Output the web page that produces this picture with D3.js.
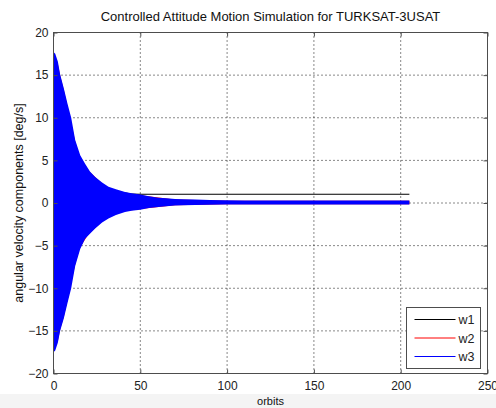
<!DOCTYPE html>
<html>
<head>
<meta charset="utf-8">
<script src="https://cdn.jsdelivr.net/npm/d3@7"></script>
<style>
  body { margin: 0; background: #fff; }
  svg { display: block; font-family: "Liberation Sans", Arial, sans-serif; }
</style>
</head>
<body>
<svg id="chart" width="496" height="408"></svg>
<script>
// axis ticks
const xTicks = [0, 50, 100, 150, 200, 250];
const yTicks = [-20, -15, -10, -5, 0, 5, 10, 15, 20];

// w3 envelope (dense oscillation, upper/lower bounds)
const w3Orbits = [0, 1, 2.5, 3.8, 6, 8, 10.2, 12.5, 15.4, 18.2, 21, 24, 28, 31.7, 36, 41.2, 45, 50, 55, 60.4, 65, 70, 75, 81.5, 90, 98.8, 110, 150, 205];
const w3Upper  = [17.7, 17.5, 16.6, 15.1, 13.4, 11.7, 10.0, 7.4, 5.6, 4.6, 3.7, 3.05, 2.4, 1.9, 1.6, 1.3, 1.15, 1.0, 0.8, 0.63, 0.55, 0.47, 0.43, 0.4, 0.35, 0.32, 0.3, 0.3, 0.3];
const w3Lower  = [-17.5, -17.3, -16.4, -15.0, -13.5, -11.8, -10.0, -7.4, -5.4, -4.2, -3.6, -3.0, -2.3, -1.83, -1.4, -1.05, -0.9, -0.78, -0.6, -0.47, -0.38, -0.3, -0.26, -0.23, -0.2, -0.19, -0.19, -0.19, -0.19];

// w2 envelope (mostly hidden under w3)
const w2Orbits = [0, 2.5, 4, 6, 10, 12.5, 15, 20, 30, 40, 50, 70, 100, 205];
const w2Upper  = [17.3, 16.3, 14.8, 13.2, 9.6, 7.2, 5.5, 3.8, 1.9, 1.2, 0.9, 0.4, 0.25, 0.25];
const w2Lower  = [-17.2, -16.2, -14.7, -13.3, -9.6, -7.2, -5.3, -3.7, -1.8, -1.0, -0.7, -0.25, -0.15, -0.15];

// w1 envelope (settles near 1 deg/s)
const w1Orbits = [0, 10, 20, 30, 40, 45, 50, 205];
const w1Upper  = [12.0, 7.0, 3.5, 1.8, 1.3, 1.12, 1.08, 1.08];
const w1Lower  = [-10.0, -5.0, -2.0, -0.4, 0.6, 0.92, 0.96, 0.96];

const legendItems = [
  { name: "w1", color: "#000000" },
  { name: "w2", color: "#ff0000" },
  { name: "w3", color: "#0000ff" }
];

const W = 496, H = 408;
const margin = { left: 53.5, right: 8.5, top: 32.5, bottom: 34.5 };
const svg = d3.select("#chart");

// light band at the very bottom of the figure
svg.append("rect")
  .attr("x", 0).attr("y", 394)
  .attr("width", W).attr("height", H - 394)
  .attr("fill", "#f4f4f4");

const x = d3.scaleLinear().domain([0, 250]).range([margin.left, W - margin.right]);
const y = d3.scaleLinear().domain([-20, 20]).range([H - margin.bottom, margin.top]);

const plotW = W - margin.left - margin.right;
const plotH = H - margin.top - margin.bottom;

svg.append("rect")
  .attr("x", margin.left).attr("y", margin.top)
  .attr("width", plotW).attr("height", plotH)
  .attr("fill", "#fff");

// dotted grid
const grid = svg.append("g").attr("class", "grid");
grid.selectAll("line.gx")
  .data(xTicks.slice(1, -1))
  .join("line")
  .attr("class", "gx")
  .attr("x1", d => x(d)).attr("x2", d => x(d))
  .attr("y1", margin.top).attr("y2", H - margin.bottom);
grid.selectAll("line.gy")
  .data(yTicks.slice(1, -1))
  .join("line")
  .attr("class", "gy")
  .attr("x1", margin.left).attr("x2", W - margin.right)
  .attr("y1", d => y(d)).attr("y2", d => y(d));
grid.selectAll("line")
  .attr("stroke", "#111")
  .attr("stroke-width", 1)
  .attr("stroke-dasharray", "1,3");

function envelope(orbits, upper, lower) {
  return orbits.map((o, i) => ({ o: o, hi: upper[i], lo: lower[i] }));
}
const area = d3.area()
  .x(d => x(d.o))
  .y0(d => y(d.lo))
  .y1(d => y(d.hi));

const series = [
  { data: envelope(w1Orbits, w1Upper, w1Lower), color: "#000000" },
  { data: envelope(w2Orbits, w2Upper, w2Lower), color: "#ff0000" },
  { data: envelope(w3Orbits, w3Upper, w3Lower), color: "#0000ff" }
];

svg.append("g")
  .selectAll("path")
  .data(series)
  .join("path")
  .attr("d", d => area(d.data))
  .attr("fill", d => d.color);

// axes (ticks pointing inward, box on)
const tickLen = 4;
const fmt = d3.format("d");

const xAxisB = svg.append("g")
  .attr("transform", `translate(0,${H - margin.bottom})`)
  .call(d3.axisBottom(x).tickValues(xTicks).tickFormat(fmt).tickSizeInner(-tickLen).tickSizeOuter(0).tickPadding(8));
const xAxisT = svg.append("g")
  .attr("transform", `translate(0,${margin.top})`)
  .call(d3.axisTop(x).tickValues(xTicks).tickFormat("").tickSizeInner(-tickLen).tickSizeOuter(0));
const yAxisL = svg.append("g")
  .attr("transform", `translate(${margin.left},0)`)
  .call(d3.axisLeft(y).tickValues(yTicks).tickFormat(fmt).tickSizeInner(-tickLen).tickSizeOuter(0).tickPadding(5));
const yAxisR = svg.append("g")
  .attr("transform", `translate(${W - margin.right},0)`)
  .call(d3.axisRight(y).tickValues(yTicks).tickFormat("").tickSizeInner(-tickLen).tickSizeOuter(0));

[xAxisB, xAxisT, yAxisL, yAxisR].forEach(g => {
  g.select(".domain").remove();
  g.selectAll(".tick line").attr("stroke", "#4d4d4d");
  g.selectAll(".tick text")
    .attr("fill", "#222")
    .style("font-family", "Liberation Sans, Arial, sans-serif")
    .style("font-size", "12px");
});

// frame
svg.append("rect")
  .attr("x", margin.left).attr("y", margin.top)
  .attr("width", plotW).attr("height", plotH)
  .attr("fill", "none")
  .attr("stroke", "#4d4d4d")
  .attr("stroke-width", 1);

// title & labels
svg.append("text")
  .attr("x", margin.left + plotW / 2).attr("y", 21)
  .attr("text-anchor", "middle")
  .attr("font-size", 13)
  .attr("fill", "#111")
  .text("Controlled Attitude Motion Simulation for TURKSAT-3USAT");

svg.append("text")
  .attr("x", margin.left + plotW / 2).attr("y", 405)
  .attr("text-anchor", "middle")
  .attr("font-size", 11)
  .attr("fill", "#111")
  .text("orbits");

svg.append("text")
  .attr("transform", `translate(23,${margin.top + plotH / 2}) rotate(-90)`)
  .attr("text-anchor", "middle")
  .attr("font-size", 12.5)
  .attr("fill", "#111")
  .text("angular velocity components [deg/s]");

// legend
const lg = svg.append("g").attr("transform", "translate(406.5,307.5)");
lg.append("rect")
  .attr("width", 74).attr("height", 61)
  .attr("fill", "#fff")
  .attr("stroke", "#4d4d4d");
const rows = lg.selectAll("g.row")
  .data(legendItems)
  .join("g")
  .attr("class", "row")
  .attr("transform", (d, i) => `translate(0,${12 + i * 18.5})`);
rows.append("line")
  .attr("x1", 8).attr("x2", 49)
  .attr("stroke", d => d.color)
  .attr("stroke-width", 1);
rows.append("text")
  .attr("x", 52).attr("y", 4.5)
  .attr("font-size", 12.5)
  .attr("fill", "#222")
  .text(d => d.name);
</script>
</body>
</html>
